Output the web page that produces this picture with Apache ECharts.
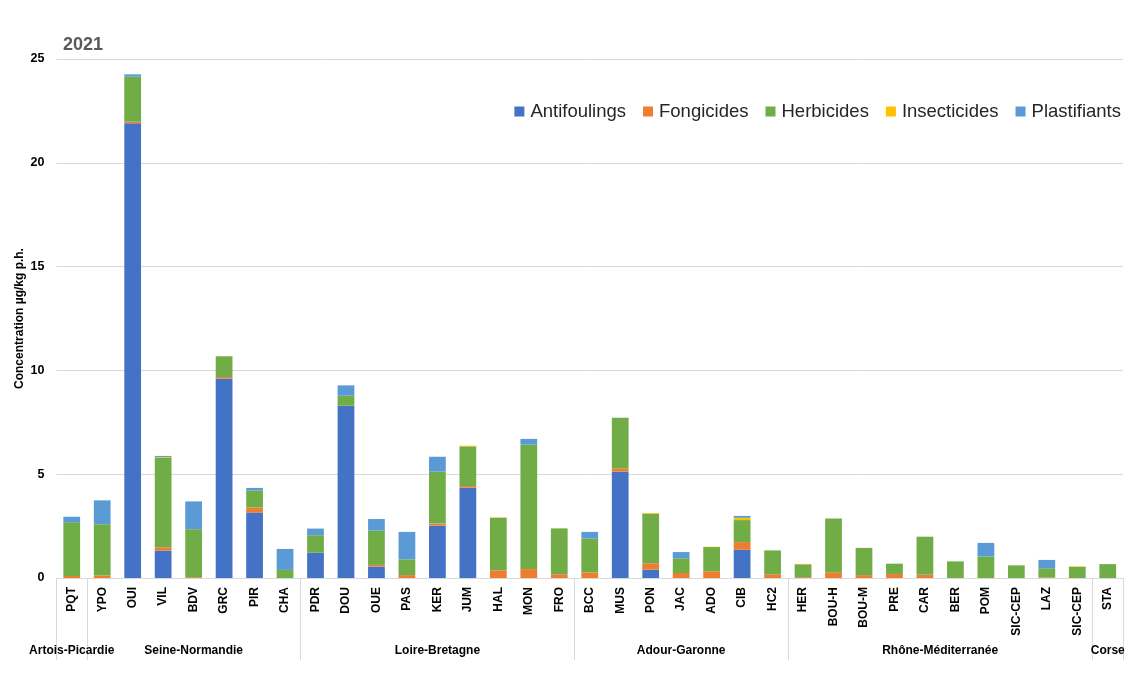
<!DOCTYPE html>
<html>
<head>
<meta charset="utf-8">
<script src="https://cdn.jsdelivr.net/npm/echarts@6/dist/echarts.min.js"></script>
<style>
html,body{margin:0;padding:0;background:#fff;}
#chart{width:1129px;height:695px;}
</style>
</head>
<body>
<div id="chart"></div>
<script>
const categories = ['PQT','YPO','OUI','VIL','BDV','GRC','PIR','CHA','PDR','DOU','OUE','PAS','KER','JUM','HAL','MON','FRO','BCC','MUS','PON','JAC','ADO','CIB','HC2','HER','BOU-H','BOU-M','PRE','CAR','BER','POM','SIC-CEP','LAZ','SIC-CEP','STA'];
const groupNames = ['Artois-Picardie','Seine-Normandie','Loire-Bretagne','Adour-Garonne','Rhône-Méditerranée','Corse'];
const groupSizes = [1,7,9,7,10,1];
const seriesNames = ['Antifoulings','Fongicides','Herbicides','Insecticides','Plastifiants'];
const antifoulings = [0,0,21.9,1.32,0,9.6,3.15,0,1.22,8.3,0.55,0,2.52,4.35,0,0,0,0,5.12,0.4,0,0,1.36,0,0,0,0,0,0,0,0,0,0,0,0];
const fongicides   = [0.1,0.12,0.08,0.16,0.04,0.08,0.25,0,0,0,0.08,0.14,0.1,0.08,0.37,0.43,0.18,0.27,0.16,0.31,0.24,0.32,0.37,0.18,0.04,0.27,0.14,0.19,0.16,0,0,0,0.02,0,0];
const herbicides   = [2.58,2.47,2.17,4.32,2.31,1.0,0.81,0.39,0.84,0.48,1.65,0.76,2.5,1.91,2.53,5.99,2.21,1.64,2.44,2.39,0.71,1.17,1.06,1.15,0.62,2.6,1.31,0.5,1.83,0.8,1.04,0.61,0.45,0.54,0.67];
const insecticides = [0,0,0,0.03,0,0,0,0,0,0,0,0,0,0.03,0.02,0,0,0,0,0.03,0,0.02,0.11,0,0.02,0,0,0,0,0,0,0,0,0.02,0];
const plastifiants = [0.27,1.15,0.11,0.05,1.34,0,0.13,1.01,0.32,0.5,0.56,1.32,0.72,0,0,0.28,0,0.31,0,0,0.3,0,0.09,0,0,0,0,0,0,0,0.65,0,0.4,0,0];
const yTicks = [0,5,10,15,20,25];

const colors = ['#4472C4','#ED7D31','#70AD47','#FFC000','#5B9BD5'];
const values = [antifoulings,fongicides,herbicides,insecticides,plastifiants];

const boundaries = [];
const centers = {};
let acc = 0;
groupSizes.forEach((s,i)=>{ boundaries.push(acc); centers[(acc + s/2).toFixed(1)] = groupNames[i]; acc += s; });

const chart = echarts.init(document.getElementById('chart'));
const font = '"Liberation Sans", "Noto Sans", sans-serif';
chart.setOption({
  animation:false,
  textStyle:{fontFamily:font},
  title:{text:'2021',left:58,top:31,textStyle:{fontSize:18,fontWeight:'bold',color:'#595959',fontFamily:font}},
  legend:{
    data:seriesNames, right:3, top:97, itemWidth:10, itemHeight:10, itemGap:17,
    icon:'rect',
    textStyle:{fontSize:18.5,color:'#262626',fontFamily:font,padding:[0,0,0,1]}
  },
  grid:{left:56.5,right:6,top:59,bottom:117,containLabel:false,outerBoundsMode:'none'},
  xAxis:[{
    type:'category', data:categories, boundaryGap:true,
    axisLine:{lineStyle:{color:'#d9d9d9'}},
    axisTick:{show:true,length:82,interval:function(i){return boundaries.indexOf(i)>=0;},lineStyle:{color:'#d9d9d9'}},
    axisLabel:{interval:0,rotate:90,fontSize:12,fontWeight:'bold',color:'#000',margin:9,fontFamily:font}
  },{
    type:'value', position:'bottom', min:0, max:categories.length, interval:0.5,
    axisLine:{show:false}, axisTick:{show:false}, splitLine:{show:false},
    axisLabel:{show:true, margin:67, fontSize:12, fontWeight:'bold', color:'#000', fontFamily:font,
      showMinLabel:true, showMaxLabel:true,
      formatter:function(v){ const k=(Math.round(v*2)/2).toFixed(1); return centers[k]||''; }}
  }],
  yAxis:{
    type:'value', min:0, max:25, interval:5,
    name:'Concentration µg/kg p.h.', nameLocation:'middle', nameGap:31, nameRotate:90,
    nameMoveOverlap:false,
    nameTextStyle:{fontSize:12,fontWeight:'bold',color:'#000',fontFamily:font},
    axisLine:{show:false}, axisTick:{show:false},
    axisLabel:{fontSize:12.5,fontWeight:'bold',color:'#000',margin:12,fontFamily:font,
      formatter:function(v){ return yTicks.indexOf(v)>=0 ? String(v) : ''; }},
    splitLine:{lineStyle:{color:'#d9d9d9'}}
  },
  series: seriesNames.map((n,i)=>({
    name:n, type:'bar', stack:'total', xAxisIndex:0, barWidth:'55%',
    itemStyle:{color:colors[i]}, data:values[i]
  }))
});
</script>
</body>
</html>
